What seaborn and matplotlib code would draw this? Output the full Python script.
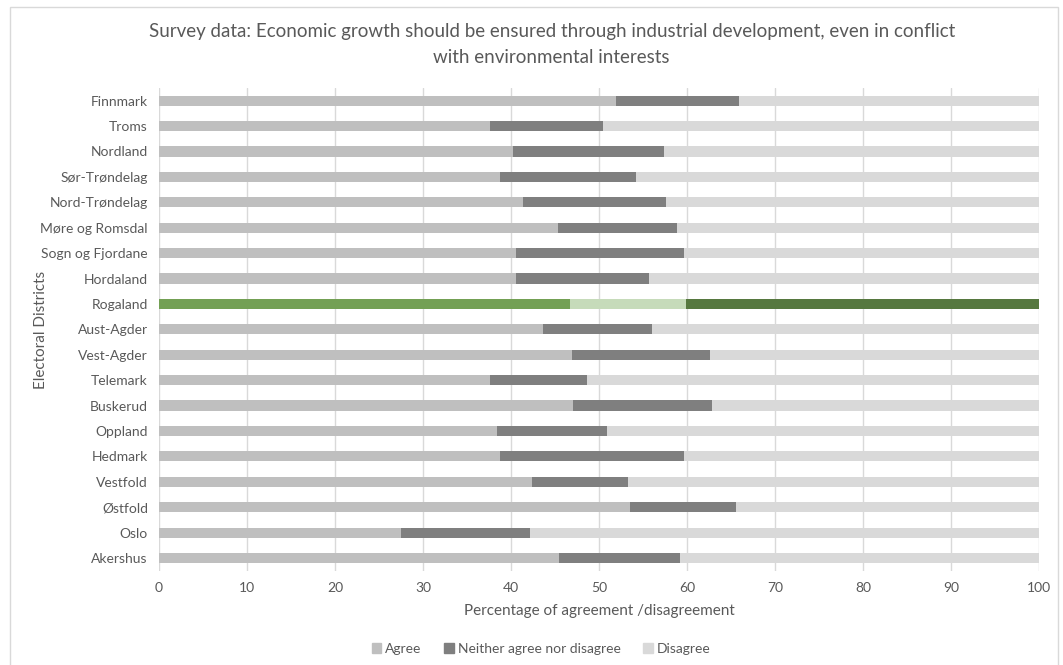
import matplotlib.pyplot as plt
import matplotlib.patches as mpatches
import seaborn as sns
import pandas as pd

# Survey values (percent), top to bottom as shown in the chart
districts = ["Finnmark", "Troms", "Nordland", "Sør-Trøndelag", "Nord-Trøndelag",
             "Møre og Romsdal", "Sogn og Fjordane", "Hordaland", "Rogaland",
             "Aust-Agder", "Vest-Agder", "Telemark", "Buskerud", "Oppland",
             "Hedmark", "Vestfold", "Østfold", "Oslo", "Akershus"]
agree = [51.9, 37.6, 40.2, 38.8, 41.4, 45.3, 40.6, 40.6, 46.7,
         43.6, 46.9, 37.6, 47.0, 38.4, 38.7, 42.4, 53.5, 27.5, 45.5]
neither = [14.0, 12.9, 17.2, 15.4, 16.2, 13.6, 19.1, 15.1, 13.2,
           12.4, 15.7, 11.0, 15.8, 12.5, 21.0, 10.9, 12.1, 14.7, 13.7]
disagree = [round(100 - a - n, 1) for a, n in zip(agree, neither)]

highlight = "Rogaland"

df = pd.DataFrame({"district": districts, "agree": agree,
                   "neither": neither, "disagree": disagree})
df["agree_neither"] = df["agree"] + df["neither"]
df["total"] = df["agree_neither"] + df["disagree"]

grey_agree, grey_neither, grey_dis = "#BFBFBF", "#7F7F7F", "#D9D9D9"
green_agree, green_neither, green_dis = "#70AD47", "#C5E0B4", "#548235"

def pal(base, special):
    return {d: (special if d == highlight else base) for d in districts}

sns.set_style("white")
plt.rcParams["font.family"] = ["Lato", "DejaVu Sans"]
text_col = "#595959"

fig = plt.figure(figsize=(10.63, 6.65), dpi=100)
ax = fig.add_axes([0.1496, 0.1418, 0.8278, 0.7259])

# stacked bars drawn as overlapping cumulative bars
sns.barplot(data=df, y="district", x="total", hue="district", order=districts,
            palette=pal(grey_dis, green_dis), legend=False, width=0.4,
            linewidth=0, ax=ax)
sns.barplot(data=df, y="district", x="agree_neither", hue="district", order=districts,
            palette=pal(grey_neither, green_neither), legend=False, width=0.4,
            linewidth=0, ax=ax)
sns.barplot(data=df, y="district", x="agree", hue="district", order=districts,
            palette=pal(grey_agree, green_agree), legend=False, width=0.4,
            linewidth=0, ax=ax)

ax.set_xlim(0, 100)
ax.set_ylim(len(districts) - 0.5, -0.5)
ax.set_xticks(range(0, 101, 10))
ax.xaxis.grid(True, color="#D9D9D9", linewidth=1)
ax.set_axisbelow(True)
for s in ax.spines.values():
    s.set_visible(False)
ax.tick_params(axis="both", length=0, labelsize=10, colors=text_col, pad=8)
ax.set_xlabel("Percentage of agreement /disagreement", fontsize=11, color=text_col, labelpad=7)
ax.set_ylabel("")
fig.text(0.0385, 0.504, "Electoral Districts", rotation=90, ha="center", va="center",
         fontsize=11, color=text_col)

fig.text(0.519, 0.933,
         "Survey data: Economic growth should be ensured through industrial development, even in conflict\nwith environmental interests",
         ha="center", va="center", fontsize=13.5, color=text_col, linespacing=1.6)

handles = [mpatches.Patch(color=grey_agree, label="Agree"),
           mpatches.Patch(color=grey_neither, label="Neither agree nor disagree"),
           mpatches.Patch(color=grey_dis, label="Disagree")]
fig.legend(handles=handles, loc="center", bbox_to_anchor=(0.509, 1 - 649 / 665), ncol=3,
           frameon=False, fontsize=10, handlelength=0.7, handleheight=0.7,
           handletextpad=0.3, columnspacing=1.6, labelcolor=text_col)

# chart border
fig.patches.append(mpatches.Rectangle((10 / 1063, -0.01), 1048 / 1063, 1 - 7 / 665 + 0.01,
                                      transform=fig.transFigure, fill=False,
                                      edgecolor="#D9D9D9", linewidth=1))

plt.savefig("out.png", dpi=100)
plt.close()
